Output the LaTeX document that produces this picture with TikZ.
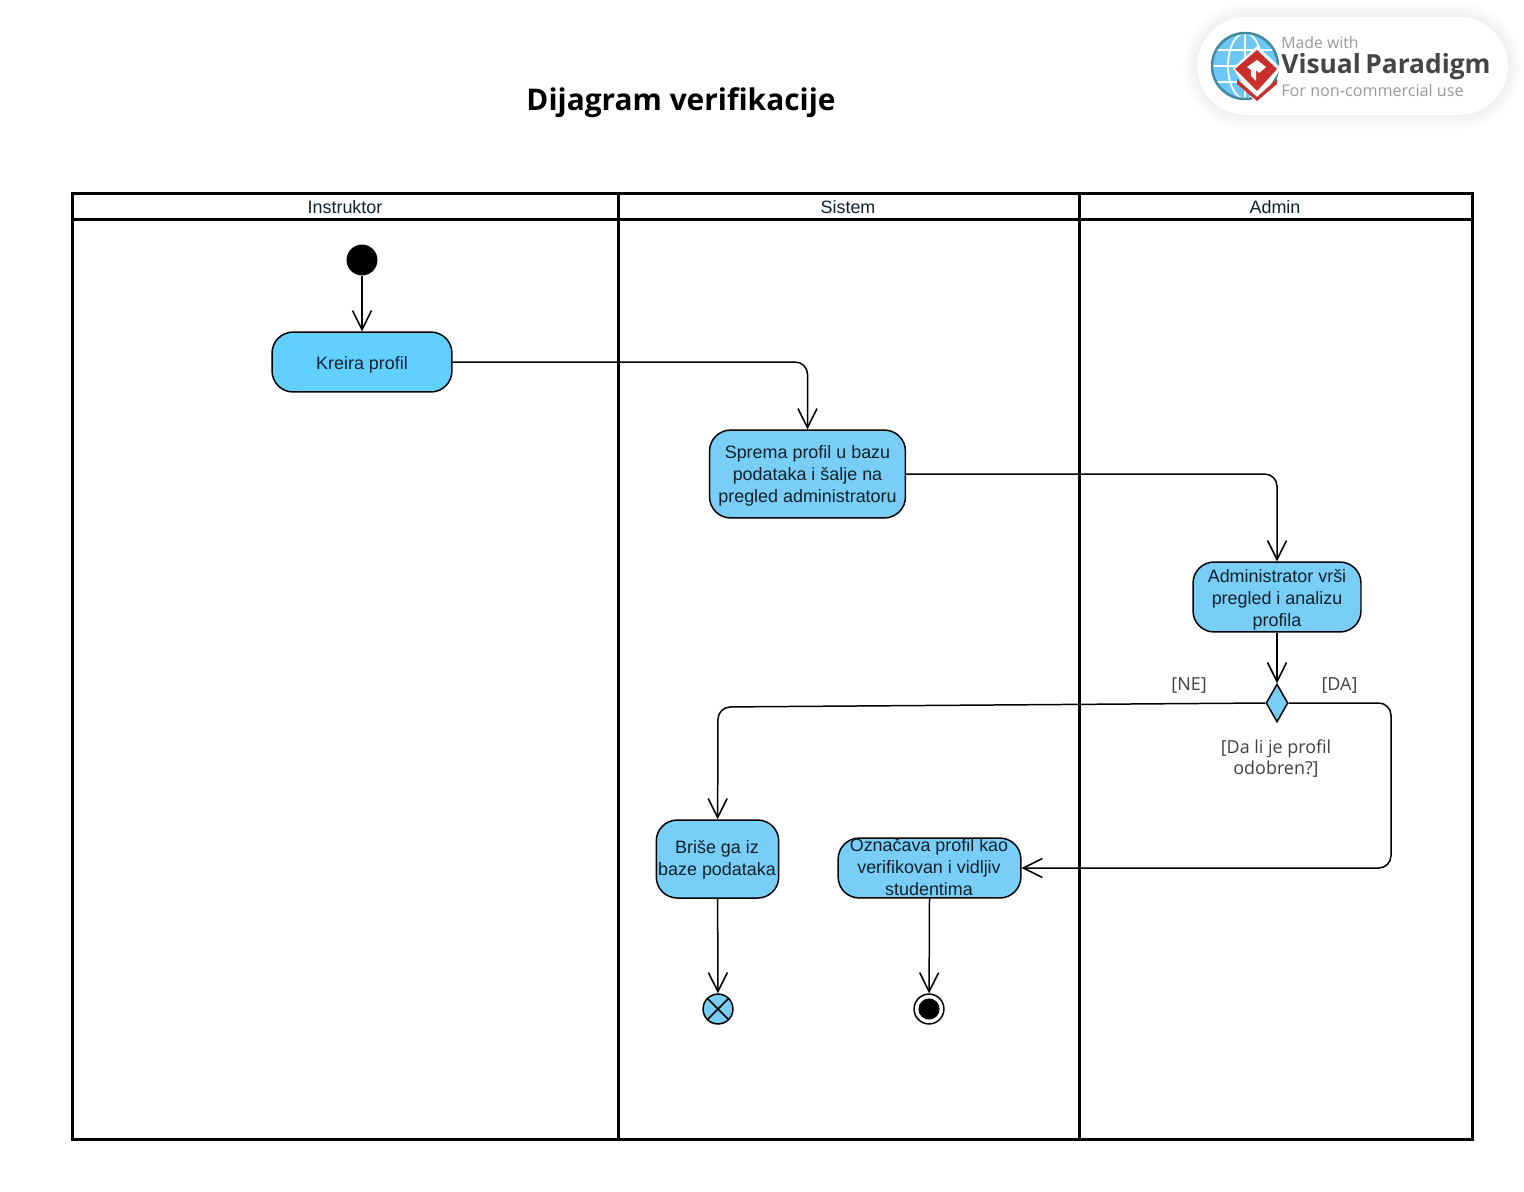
\documentclass[tikz,border=0pt]{standalone}
\usepackage{fontspec}
\setmainfont{Liberation Sans}
\newfontfamily\opensans{Open Sans}
\usetikzlibrary{
  arrows.meta,
  shapes.geometric,
}
\definecolor{bright}{HTML}{61CFFF}
\definecolor{akcija}{HTML}{78CEF6}
\definecolor{tekst}{HTML}{10202A}
\definecolor{siva}{HTML}{404040}
\definecolor{vpgrey}{HTML}{9A9A9A}
\definecolor{vpdark}{HTML}{454545}
\definecolor{vpred}{HTML}{C9302C}
\definecolor{vpring}{HTML}{3F8A9E}
\definecolor{vpblue}{HTML}{6CC6F6}
\newcommand{\gore}{\rule{0pt}{10.7pt}}
\tikzset{
  >={Straight Barb[length=19*0.569pt,width=19*0.569pt,line width=0.9pt]},
  lane/.style={draw=black, line width=1.7pt, fill=none},
  header/.style={font=\fontsize{10.2}{12.5}\selectfont, text=tekst, inner sep=0pt},
  action/.style={
    draw=black,
    fill=akcija,
    line width=0.85pt,
    rounded corners=12pt,
    inner sep=0pt,
    align=center,
    font=\fontsize{10.2}{12.5}\selectfont,
    text=tekst,
    execute at end node={\rule[-2.6pt]{0pt}{2.6pt}},
  },
  actiontext/.style={
    inner sep=0pt,
    align=center,
    font=\fontsize{10.2}{12.5}\selectfont,
    text=tekst,
  },
  guard/.style={font=\opensans\fontsize{10.2}{11.6}\selectfont, text=siva, align=center, inner sep=0pt},
  flow/.style={draw=black, line width=0.85pt, rounded corners=7pt, ->},
  decision/.style={
    shape=diamond,
    draw=black,
    fill=akcija,
    line width=0.85pt,
    inner sep=0pt,
    aspect=0.58,
    minimum width=12.5pt,
    minimum height=21.6pt,
  },
  dot/.style={shape=circle, fill=black, inner sep=0pt},
}

\begin{document}
\begin{tikzpicture}[x=0.02cm,y=-0.02cm]
  \useasboundingbox (0,0) rectangle (1524,1191);

  % logo
  \foreach \o in {14,12,10,8,6,4,2} {
    \fill[black, opacity=0.006, rounded corners=28pt+0.569pt*\o] (1197-\o,17-\o) rectangle (1508+\o,115+\o);
  }
  \fill[white, rounded corners=28pt] (1197,17) rectangle (1508,115);
  \begin{scope}
    \clip (1245,66) circle (33);
    \fill[vpblue] (1245,66) circle (33);
    \draw[white, line width=1pt] (1212,50) -- (1278,50) (1212,66) -- (1278,66) (1212,82) -- (1278,82);
    \draw[white, line width=1pt] (1245,33) -- (1245,99) (1245,66) ellipse (17 and 33);
  \end{scope}
  \draw[vpring, line width=1.4pt] (1245,66) circle (33);
  \fill[white] (1233,68) -- (1257,46) -- (1281,68) -- (1257,106) -- cycle;
  \fill[vpred] (1237,79) -- (1257,97) -- (1277,79) -- (1277,84) -- (1257,101) -- (1237,84) -- cycle;
  \fill[vpred] (1235,69) -- (1257,50) -- (1277,69) -- (1257,91) -- cycle;
  \fill[white] (1247,67) -- (1257,60) -- (1266,67) -- (1259,73) -- (1256,70) -- (1256,81) -- (1251,76) -- (1251,70) -- cycle;
  \node[font=\opensans\fontsize{9}{10}\selectfont, text=vpgrey, anchor=west, inner sep=0pt] (madewith) at (1281,43) {Made with};
  \node[font=\opensans\bfseries\fontsize{15}{18}\selectfont, text=vpdark, anchor=west, inner sep=0pt] (vpname) at (1281,67) {Visual\,Paradigm};
  \node[font=\opensans\fontsize{9.2}{10}\selectfont, text=vpgrey, anchor=west, inner sep=0pt] (noncomm) at (1281,90) {For non-commercial use};

  \node[font=\opensans\bfseries\fontsize{17}{20}\selectfont, text=black, inner sep=0pt] (naslov) at (681,103) {Dijagram verifikacije};

  % swimlanes
  \draw[lane] (72.5,193) rectangle (1472,1139);
  \draw[lane] (72.5,219) -- (1472,219);
  \draw[lane] (618.5,193) -- (618.5,1139);
  \draw[lane] (1079,193) -- (1079,1139);
  \node[header] (instruktor) at (345,207) {Instruktor};
  \node[header] (sistem) at (848,207) {Sistem};
  \node[header] (adminlane) at (1275,207) {Admin};

  % nodes
  \node[dot, minimum size=17.6pt] (start) at (362,260) {};
  \node[action, fill=bright, minimum width=102.4pt, minimum height=34.1pt] (kreira) at (362,362) {\gore Kreira profil};
  \node[action, minimum width=111.5pt, minimum height=50pt] (sprema) at (807.5,474) {};
  \node[actiontext] (spremaTekst) at (807.5,476) {Sprema profil u bazu\\podataka i šalje na\\pregled administratoru};
  \node[action, minimum width=95.6pt, minimum height=39.8pt] (pregled) at (1277,597) {\gore Administrator vrši\\pregled i analizu\\profila};
  \node[decision] (odluka) at (1277,703) {};
  \node[action, minimum width=69.7pt, minimum height=44.4pt] (brise) at (717.5,859) {};
  \node[actiontext] (briseTekst) at (717,860) {Briše ga iz\\baze podataka};
  \node[action, minimum width=104pt, minimum height=34.1pt] (oznacava) at (929.5,868) {};
  \node[actiontext] (oznacavaTekst) at (929,867) {Označava profil kao\\verifikovan i vidljiv\\studentima};
  \node[draw=black, fill=akcija, line width=0.85pt, shape=circle, minimum size=17pt, inner sep=0pt] (flowend) at (718,1009) {};
  \draw[black, line width=0.85pt] (flowend.north west) -- (flowend.south east) (flowend.north east) -- (flowend.south west);
  \node[draw=black, fill=white, line width=0.85pt, shape=circle, minimum size=17pt, inner sep=0pt] (kraj) at (929,1009) {};
  \node[dot, minimum size=12pt] (krajdot) at (929,1009) {};

  % guards
  \node[guard] (ne) at (1189,686) {[NE]};
  \node[guard] (da) at (1339.5,685) {[DA]};
  \node[guard] (pitanje) at (1276,758.5) {[Da li je profil\\odobren?]};

  \coordinate (nekoljeno) at (718,707);
  \coordinate (dakoljeno) at (1391,703);

  % connectors
  \draw[flow] (start) -- (kreira);
  \draw[flow] (kreira) -| (sprema);
  \draw[flow] (sprema) -| (pregled);
  \draw[flow] (pregled) -- (odluka);
  \draw[flow] (odluka.west) -- (nekoljeno) -- (brise);
  \draw[flow] (odluka.east) -- (dakoljeno) |- (oznacava);
  \draw[flow] (brise) -- (flowend);
  \draw[flow] (oznacava.south) -- (kraj);
\end{tikzpicture}
\end{document}
